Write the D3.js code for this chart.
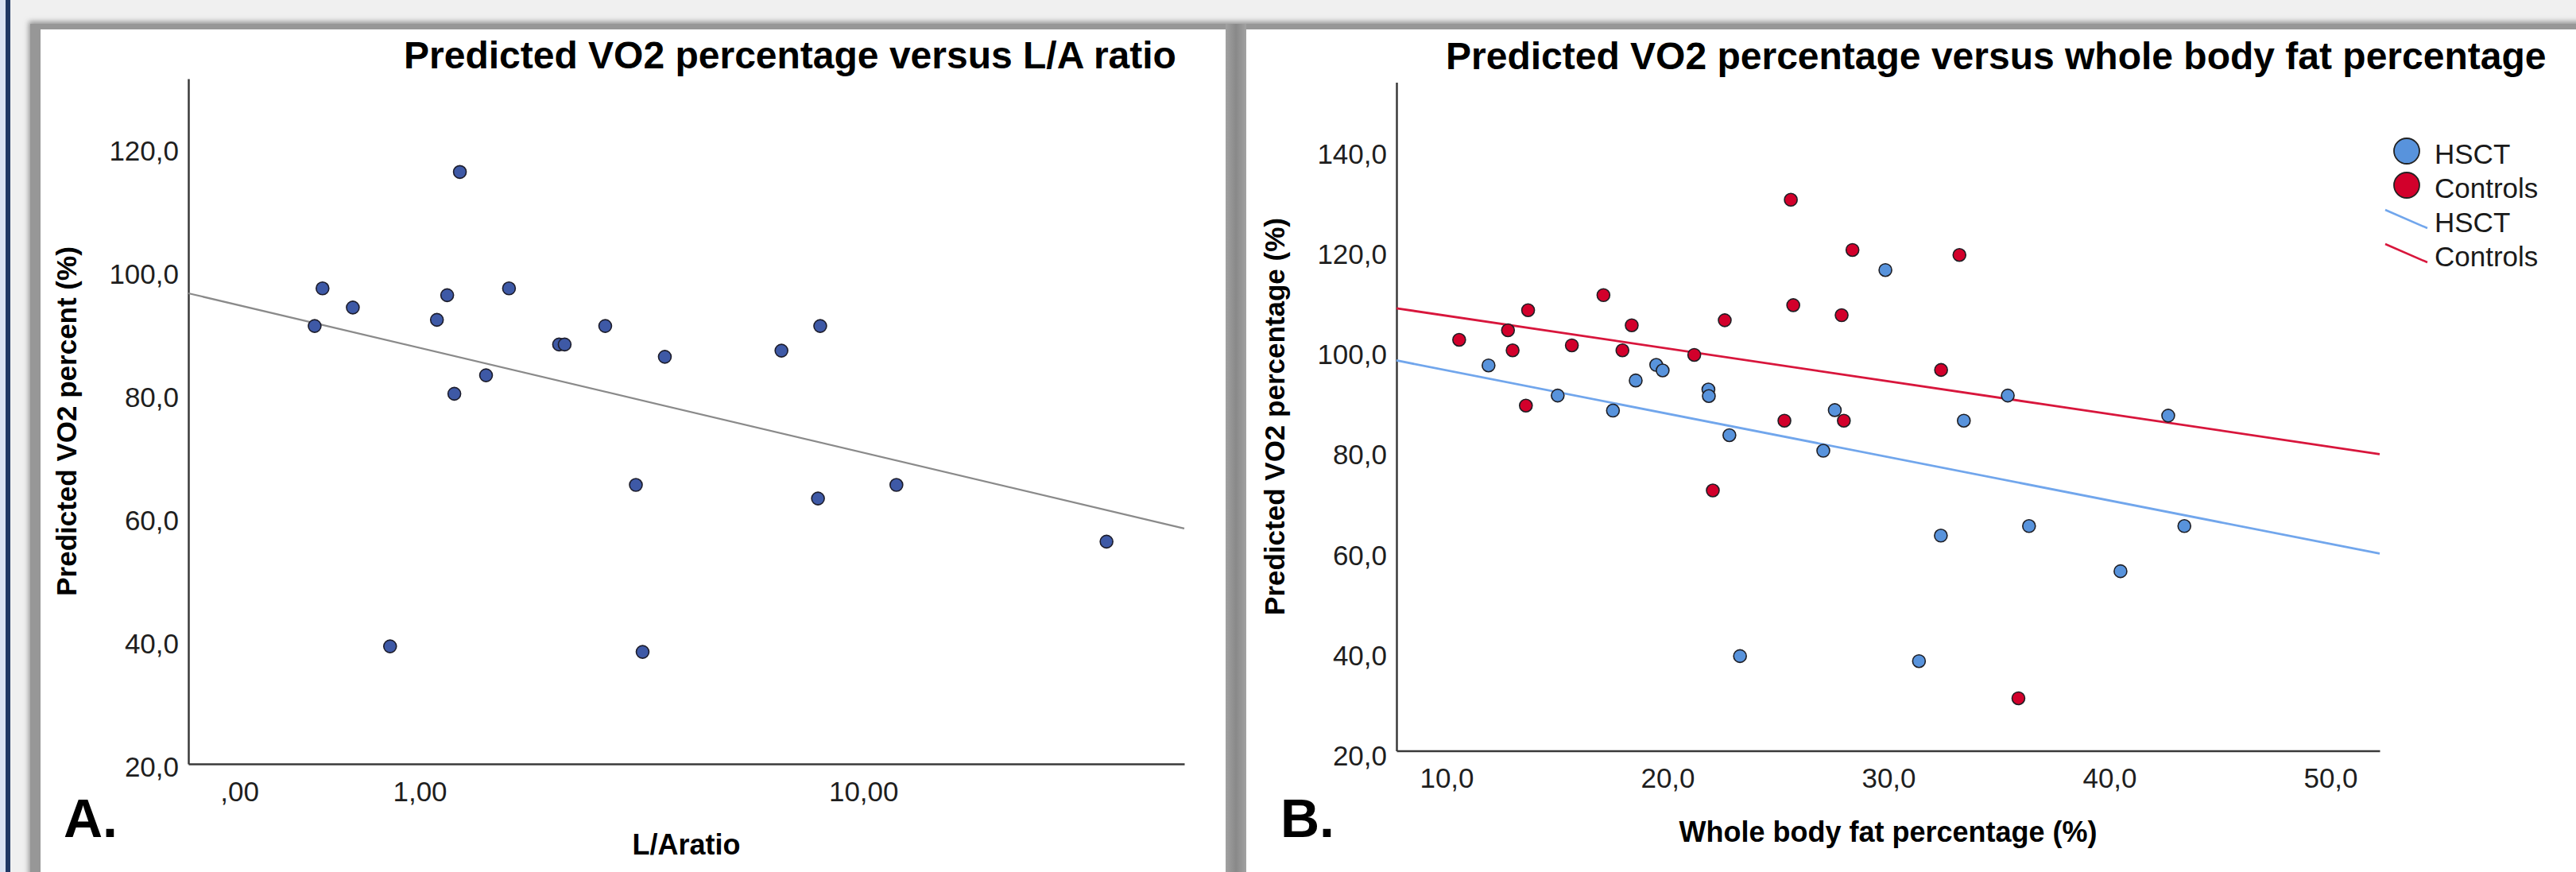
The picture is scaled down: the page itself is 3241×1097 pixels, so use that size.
<!DOCTYPE html>
<html>
<head>
<meta charset="utf-8">
<script src="https://cdn.jsdelivr.net/npm/d3@7"></script>
<style>
body { margin: 0; background: #f0f0f0; overflow: hidden; }
svg { display: block; }
text { font-family: "Liberation Sans", Arial, sans-serif; }
</style>
</head>
<body>
<div id="chart"></div>
<script>
// panel A: L/A ratio vs predicted VO2
var laRatio = [0.336, 0.377, 0.547, 0.785, 1.137, 1.223, 1.334, 1.285, 1.581, 1.819, 2.417, 2.491, 3.08, 4.13, 3.59, 3.71, 7.03, 8.32, 8.24, 11.49, 27.0]
var laVO2 = [91.6, 97.7, 94.6, 39.6, 92.6, 96.6, 116.6, 80.6, 83.6, 97.7, 88.6, 88.6, 91.6, 86.6, 65.8, 38.7, 87.6, 91.6, 63.6, 65.8, 56.6]
var laTicks = [0, 1, 10]
var laTickLabels = [',00', '1,00', '10,00']
var vo2TicksA = [20, 40, 60, 80, 100, 120]

// panel B: whole body fat vs predicted VO2, two groups
var groups = ['HSCT', 'Controls']
var hsctFat = [11.90, 15.03, 17.53, 18.56, 19.49, 19.78, 21.85, 21.87, 22.80, 23.28, 27.05, 27.57, 29.86, 31.38, 32.37, 33.41, 35.40, 36.36, 40.50, 42.66, 43.39]
var hsctVO2 = [97.9, 91.9, 88.9, 94.9, 98.0, 96.9, 93.1, 91.8, 84.0, 40.0, 80.9, 89.0, 116.9, 39.0, 64.0, 86.9, 91.9, 65.9, 56.9, 87.9, 65.9]
var ctrlFat = [10.57, 12.78, 12.99, 13.69, 13.59, 15.67, 17.10, 17.96, 18.38, 21.21, 22.05, 22.59, 25.29, 25.58, 25.69, 27.88, 27.98, 28.37, 32.38, 33.21, 35.88]
var ctrlVO2 = [103.0, 104.9, 100.9, 108.9, 89.9, 101.9, 111.9, 100.9, 105.9, 100.0, 73.0, 106.9, 86.9, 130.9, 109.9, 107.9, 86.9, 120.9, 97.0, 119.9, 31.6]
var fatTicks = [10, 20, 30, 40, 50]
var vo2TicksB = [20, 40, 60, 80, 100, 120, 140]

var W = 3241, H = 1097
var font = '"Liberation Sans", Arial, sans-serif'
var loc = d3.formatLocale({decimal: ',', thousands: '.', grouping: [3], currency: ['', '']})
var f1 = loc.format('.1f')

var svg = d3.select('#chart').append('svg').attr('width', W).attr('height', H)
var defs = svg.append('defs')
defs.append('filter').attr('id', 'soft').attr('x', '-5%').attr('y', '-5%').attr('width', '110%').attr('height', '110%')
	.append('feGaussianBlur').attr('stdDeviation', 3)
var sep = defs.append('linearGradient').attr('id', 'sep').attr('x1', 0).attr('x2', 1).attr('y1', 0).attr('y2', 0)
sep.append('stop').attr('offset', '0%').attr('stop-color', '#a2a2a2')
sep.append('stop').attr('offset', '50%').attr('stop-color', '#898989')
sep.append('stop').attr('offset', '100%').attr('stop-color', '#a2a2a2')

// window chrome: grey frame, white panels
svg.append('rect').attr('width', W).attr('height', H).attr('fill', '#f0f0f0')
svg.append('rect').attr('x', 36).attr('y', 27).attr('width', W + 40).attr('height', H + 40).attr('fill', '#979797').attr('filter', 'url(#soft)')
svg.append('rect').attr('x', 38).attr('y', 30).attr('width', W).attr('height', H).attr('fill', '#979797')
svg.append('rect').attr('x', 51).attr('y', 37).attr('width', 1491).attr('height', H).attr('fill', '#fff')
svg.append('rect').attr('x', 1542).attr('y', 30).attr('width', 26).attr('height', H).attr('fill', 'url(#sep)')
svg.append('rect').attr('x', 1568).attr('y', 37).attr('width', W - 1568).attr('height', H).attr('fill', '#fff')
svg.append('rect').attr('x', 0).attr('y', 0).attr('width', 7).attr('height', H).attr('fill', '#dae3f3')
svg.append('rect').attr('x', 7).attr('y', 0).attr('width', 6).attr('height', H).attr('fill', '#203864')

var ols = function (xs, ys) {
	var mx = d3.mean(xs), my = d3.mean(ys)
	var sxy = d3.sum(xs, function (x, i) { return (x - mx) * (ys[i] - my) })
	var sxx = d3.sum(xs, function (x) { return (x - mx) * (x - mx) })
	var b = sxy / sxx
	return {a: my - b * mx, b: b}
}

var styleAxis = function (g) {
	g.attr('font-size', 35).attr('font-family', font)
	g.select('.domain').attr('stroke', '#3a3a3a').attr('stroke-width', 2.5)
	g.selectAll('text').attr('fill', '#1e1e1e')
}

var drawAxes = function (x, y, xTicks, xFmt, yTicks, opt) {
	svg.append('g').attr('transform', 'translate(0,' + x.axisY + ')')
		.call(d3.axisBottom(x).tickValues(xTicks).tickFormat(xFmt).tickSize(0).tickSizeOuter(0).tickPadding(22))
		.call(styleAxis)
	svg.append('g').attr('transform', 'translate(' + y.axisX + ',0)')
		.call(d3.axisLeft(y).tickValues(yTicks).tickFormat(f1).tickSize(0).tickSizeOuter(0).tickPadding(12))
		.call(styleAxis)
	svg.append('text').attr('x', opt.titleX).attr('y', opt.titleY).attr('font-size', 48).attr('font-weight', 'bold')
		.attr('fill', '#000').text(opt.title)
	var xr = x.range(), yr = y.range()
	svg.append('text').attr('x', (xr[0] + xr[1]) / 2).attr('y', x.axisY + 114).attr('text-anchor', 'middle')
		.attr('font-size', 36).attr('font-weight', 'bold').attr('fill', '#000').text(opt.xTitle)
	svg.append('text').attr('transform', 'translate(' + (y.axisX - 141) + ',' + ((yr[0] + yr[1]) / 2) + ') rotate(-90)')
		.attr('text-anchor', 'middle').attr('font-size', 35).attr('font-weight', 'bold').attr('fill', '#000').text(opt.yTitle)
	svg.append('text').attr('x', opt.letterX).attr('y', 1053).attr('font-size', 68).attr('font-weight', 'bold')
		.attr('fill', '#000').text(opt.letter)
}

// ---- panel A
var xA = d3.scaleSymlog().constant(1).domain([-0.216, 36.75]).range([237, 1490])
var yA = d3.scaleLinear().domain([20.52, 131.74]).range([961, 99])
xA.axisY = 961
yA.axisX = 237
drawAxes(xA, yA, laTicks, function (d, i) { return laTickLabels[i] }, vo2TicksA, {
	title: 'Predicted VO2 percentage versus L/A ratio', titleX: 508, titleY: 86,
	xTitle: 'L/Aratio', yTitle: 'Predicted VO2 percent (%)', letter: 'A.', letterX: 80
})
var slog = function (v) { return Math.sign(v) * Math.log1p(Math.abs(v)) }
var fitA = ols(laRatio.map(slog), laVO2)
var dA = xA.domain()
svg.append('line')
	.attr('x1', xA(dA[0])).attr('y1', yA(fitA.a + fitA.b * slog(dA[0])))
	.attr('x2', xA(dA[1])).attr('y2', yA(fitA.a + fitA.b * slog(dA[1])))
	.attr('stroke', '#8a8a8a').attr('stroke-width', 2.2)
svg.append('g').selectAll('circle').data(laRatio).enter().append('circle')
	.attr('cx', function (d) { return xA(d) })
	.attr('cy', function (d, i) { return yA(laVO2[i]) })
	.attr('r', 8).attr('fill', '#3e59a6').attr('stroke', '#1c1c2a').attr('stroke-width', 1.6)

// ---- panel B
var xB = d3.scaleLinear().domain([7.734, 52.23]).range([1757, 2994])
var yB = d3.scaleLinear().domain([21.14, 154.3]).range([944.5, 103.5])
xB.axisY = 944.5
yB.axisX = 1757
drawAxes(xB, yB, fatTicks, f1, vo2TicksB, {
	title: 'Predicted VO2 percentage versus whole body fat percentage', titleX: 1819, titleY: 87,
	xTitle: 'Whole body fat percentage (%)', yTitle: 'Predicted VO2 percentage (%)', letter: 'B.', letterX: 1611
})
var series = [
	{name: groups[0], xs: hsctFat, ys: hsctVO2, fill: '#5893dc', line: '#71a6ec'},
	{name: groups[1], xs: ctrlFat, ys: ctrlVO2, fill: '#d2002b', line: '#d8163c'}
]
var dB = xB.domain()
series.forEach(function (s) {
	var fit = ols(s.xs, s.ys)
	svg.append('line')
		.attr('x1', xB(dB[0])).attr('y1', yB(fit.a + fit.b * dB[0]))
		.attr('x2', xB(dB[1])).attr('y2', yB(fit.a + fit.b * dB[1]))
		.attr('stroke', s.line).attr('stroke-width', 2.8)
})
series.forEach(function (s) {
	svg.append('g').selectAll('circle').data(s.xs).enter().append('circle')
		.attr('cx', function (d) { return xB(d) })
		.attr('cy', function (d, i) { return yB(s.ys[i]) })
		.attr('r', 8).attr('fill', s.fill).attr('stroke', '#1e1e24').attr('stroke-width', 1.6)
})

// legend: two marker rows then two line rows
var leg = svg.append('g').attr('transform', 'translate(3028,190)')
series.forEach(function (s, i) {
	leg.append('circle').attr('cx', 0).attr('cy', i * 43).attr('r', 16)
		.attr('fill', s.fill).attr('stroke', '#222').attr('stroke-width', 1.8)
	leg.append('text').attr('x', 35).attr('y', i * 43 + 16).attr('font-size', 35).attr('fill', '#1a1a1a').text(s.name)
})
series.forEach(function (s, i) {
	var y0 = 74 + i * 43
	leg.append('line').attr('x1', -27).attr('y1', y0).attr('x2', 26).attr('y2', y0 + 23)
		.attr('stroke', s.line).attr('stroke-width', 2.5)
	leg.append('text').attr('x', 35).attr('y', 102 + i * 43).attr('font-size', 35).attr('fill', '#1a1a1a').text(s.name)
})
</script>
</body>
</html>
